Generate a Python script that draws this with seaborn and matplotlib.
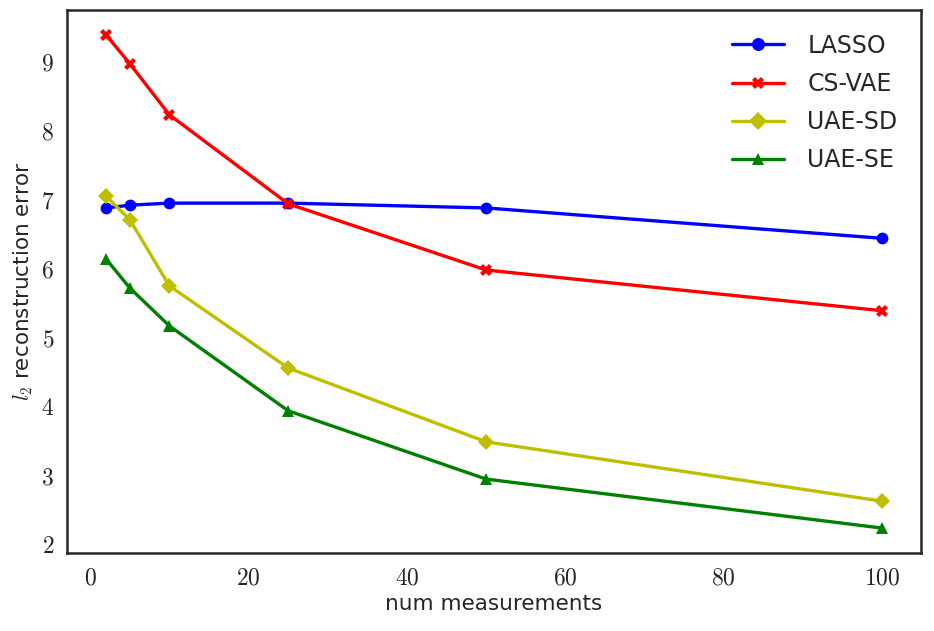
import matplotlib
matplotlib.use("Agg")
import matplotlib.pyplot as plt
import matplotlib.ticker as mticker
import seaborn as sns
import pandas as pd

measurements = [2, 5, 10, 25, 50, 100]
lasso = [6.87, 6.91, 6.94, 6.94, 6.87, 6.43]
cs_vae = [9.38, 8.96, 8.22, 6.93, 5.97, 5.38]
uae_sd = [7.04, 6.70, 5.74, 4.55, 3.48, 2.62]
uae_se = [6.13, 5.71, 5.16, 3.93, 2.94, 2.23]
methods = ["LASSO", "CS-VAE", "UAE-SD", "UAE-SE"]
series = [lasso, cs_vae, uae_sd, uae_se]

rows = []
for name, vals in zip(methods, series):
    for x, y in zip(measurements, vals):
        rows.append({"num measurements": x, "error": y, "method": name})
df = pd.DataFrame(rows)

sns.set_style("white")
plt.rcParams["mathtext.fontset"] = "cm"
plt.rcParams["font.family"] = ["DejaVu Sans"]

fig, ax = plt.subplots(figsize=(9.34, 6.31), dpi=100)
palette = {"LASSO": "b", "CS-VAE": "r", "UAE-SD": "y", "UAE-SE": "g"}
markers = {"LASSO": "o", "CS-VAE": "X", "UAE-SD": "D", "UAE-SE": "^"}
sns.lineplot(data=df, x="num measurements", y="error", hue="method", style="method",
             palette=palette, markers=markers, dashes=False, linewidth=2.4,
             markersize=8.5, markeredgewidth=0, ax=ax)

fmt = mticker.FuncFormatter(lambda v, p: f"${v:g}$")
ax.xaxis.set_major_formatter(fmt)
ax.yaxis.set_major_formatter(fmt)
ax.set_xticks([0, 20, 40, 60, 80, 100])
ax.set_yticks([2, 3, 4, 5, 6, 7, 8, 9])
ax.tick_params(labelsize=17, colors="#262626")
ax.tick_params(axis="x", pad=6)
ax.tick_params(axis="y", pad=6)
ax.set_xlabel("num measurements", fontsize=15.5, color="#262626", labelpad=3)
ax.set_ylabel(r"$l_2$ reconstruction error", fontsize=15.5, color="#262626", labelpad=4)
for s in ax.spines.values():
    s.set_color("#262626")
    s.set_linewidth(1.8)

leg = ax.legend(loc="upper right", frameon=False, fontsize=17, markerscale=1.1,
                handlelength=2.2, borderaxespad=0.6, labelspacing=0.6,
                handletextpad=1.0)
for t in leg.get_texts():
    t.set_color("#262626")

fig.subplots_adjust(left=0.072, right=0.986, top=0.984, bottom=0.124)
fig.savefig("out.png", dpi=100)
